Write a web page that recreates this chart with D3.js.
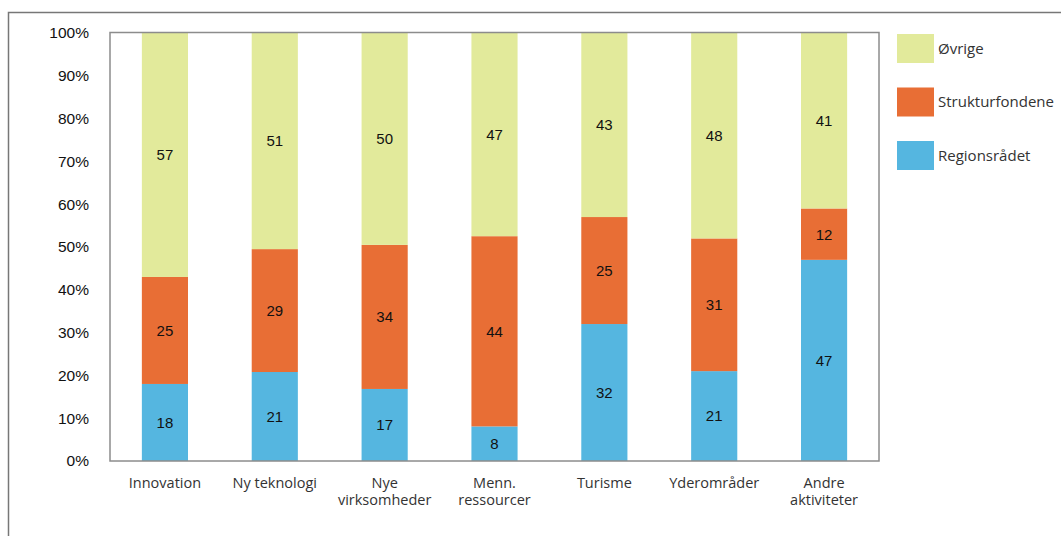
<!DOCTYPE html>
<html><head><meta charset="utf-8">
<script src="https://cdn.jsdelivr.net/npm/d3@7"></script>
<style>body{margin:0;background:#fff}svg{display:block}</style>
</head><body>
<svg id="c" width="1061" height="536"></svg>
<script>
const categories = [["Innovation"],["Ny teknologi"],["Nye","virksomheder"],["Menn.","ressourcer"],["Turisme"],["Yderområder"],["Andre","aktiviteter"]];
const regionsradet = [18,21,17,8,32,21,47];
const strukturfondene = [25,29,34,44,25,31,12];
const ovrige = [57,51,50,47,43,48,41];
const seriesNames = ["Regionsrådet","Strukturfondene","Øvrige"];
const seriesColors = ["#55b6e0","#e86e35","#e2ea9b"];
const yTicks = [0,0.1,0.2,0.3,0.4,0.5,0.6,0.7,0.8,0.9,1];

const svg = d3.select("#c");
const x0 = 110, x1 = 879, y0 = 461, y1 = 33;
const labelFont = "'Open Sans', sans-serif";
const numFont = "'Liberation Sans', Arial, sans-serif";

// outer frame
svg.append("path").attr("d","M8.5,536 V12.5 H1061").attr("fill","none").attr("stroke","#777").attr("stroke-width",1.5);

const rows = categories.map((c,i)=>({key:i, "Regionsrådet":regionsradet[i], "Strukturfondene":strukturfondene[i], "Øvrige":ovrige[i]}));
const stack = d3.stack().keys(seriesNames).offset(d3.stackOffsetExpand);
const layers = stack(rows);

const x = d3.scaleBand().domain(d3.range(categories.length)).range([x0,x1]).paddingInner(0.58).paddingOuter(0.29);
const y = d3.scaleLinear().domain([0,1]).range([y0,y1]);

const g = svg.append("g");
layers.forEach((layer,si)=>{
  const raw = [regionsradet,strukturfondene,ovrige][si];
  g.selectAll(null).data(layer).enter().append("rect")
    .attr("x",(d,i)=>x(i)).attr("width",x.bandwidth())
    .attr("y",d=>y(d[1])).attr("height",d=>y(d[0])-y(d[1]))
    .attr("fill",seriesColors[si]);
  g.selectAll(null).data(layer).enter().append("text")
    .attr("x",(d,i)=>x(i)+x.bandwidth()/2)
    .attr("y",d=>(y(d[0])+y(d[1]))/2)
    .attr("dy","0.36em").attr("text-anchor","middle")
    .attr("font-family",numFont).attr("font-size",15).attr("fill","#111")
    .text((d,i)=>raw[i]);
});

// plot border
svg.append("rect").attr("x",x0).attr("y",y1-0.5).attr("width",x1-x0).attr("height",y0-y1+0.5)
  .attr("fill","none").attr("stroke","#8c8c8c").attr("stroke-width",1.5);

// y axis
const yAxis = d3.axisLeft(y).tickValues(yTicks).tickFormat(d=>Math.round(d*100)+"%").tickSize(0).tickPadding(21);
const ya = svg.append("g").attr("transform",`translate(${x0},0)`).call(yAxis);
ya.select(".domain").remove();
ya.selectAll("text").attr("font-family",numFont).attr("font-size",15.5).attr("fill","#111");

// x axis
const xAxis = d3.axisBottom(x).tickSize(0).tickFormat("");
const xa = svg.append("g").attr("transform",`translate(0,${y0})`).call(xAxis);
xa.select(".domain").remove();
xa.selectAll(".tick").each(function(d){
  const t = d3.select(this).append("text").attr("text-anchor","middle")
    .attr("font-family",labelFont).attr("font-size",14.5).attr("fill","#333");
  categories[d].forEach((line,li)=>{
    t.append("tspan").attr("x",0).attr("y",26.5+li*17).text(line);
  });
});

// legend
const legendOrder = [2,1,0];
const lg = svg.append("g");
legendOrder.forEach((si,k)=>{
  const yy = 34 + k*53.5;
  lg.append("rect").attr("x",897).attr("y",yy).attr("width",37).attr("height",29).attr("fill",seriesColors[si]);
  lg.append("text").attr("x",938).attr("y",yy+14.5).attr("dy","0.35em")
    .attr("font-family",labelFont).attr("font-size",15).attr("fill","#333").text(seriesNames[si]);
});
</script>
</body></html>
